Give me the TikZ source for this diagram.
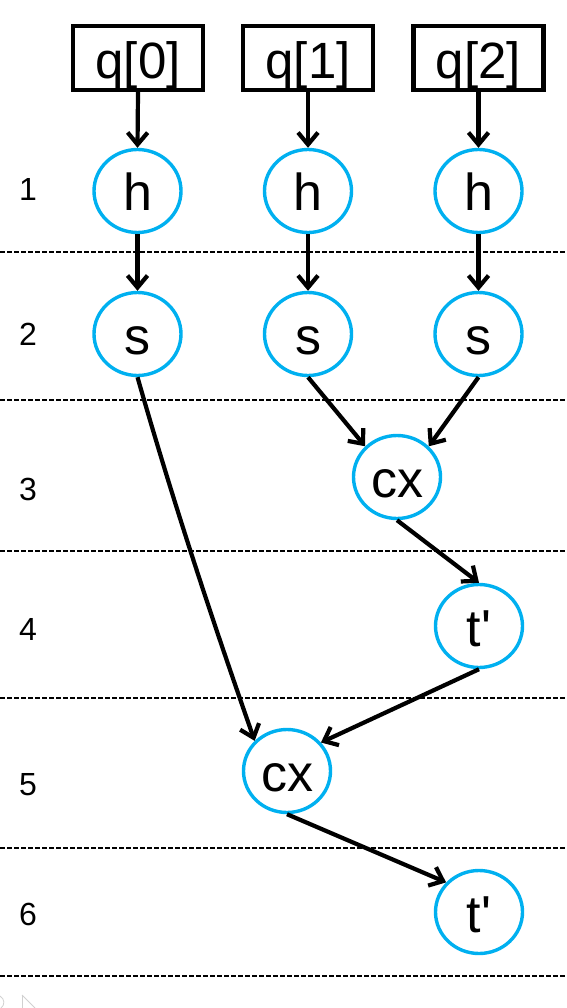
\documentclass[tikz,border=0pt]{standalone}
\usepackage{fontspec}
\setmainfont{Liberation Sans}[Ligatures=TeXOff]
\usetikzlibrary{arrows.meta,shapes.geometric}
\definecolor{gblue}{RGB}{0,176,240}
\begin{document}
\begin{tikzpicture}[x=1pt,y=-1pt,
  gate/.style={ellipse, draw=gblue, line width=3.4pt, minimum width=87pt, minimum height=83pt,
    inner sep=0pt, text height=40pt, text depth=0pt, font=\fontsize{52}{52}\selectfont},
  qbox/.style={rectangle, draw=black, line width=4.2pt, minimum width=130pt, minimum height=64pt,
    inner sep=0pt, text height=42pt, text depth=0pt, font=\fontsize{51}{51}\selectfont},
  arr/.style={line width=4.2pt, -{Straight Barb[length=12pt,width=20pt]}},
  sep/.style={line width=2pt, dash pattern=on 4.5pt off 2.5pt},
  rowlab/.style={anchor=base, font=\fontsize{32}{32}\selectfont}]
\useasboundingbox (0,0) rectangle (566,1008);

% row separators
\foreach \yy in {252,400,551,698,848,976}
  \draw[sep] (0,\yy) -- (566,\yy);

% row labels
\node[rowlab] (r1) at (28,201) {1};
\node[rowlab] (r2) at (28,345) {2};
\node[rowlab] (r3) at (28,500) {3};
\node[rowlab] (r4) at (28,640) {4};
\node[rowlab] (r5) at (28,795) {5};
\node[rowlab] (r6) at (28,925) {6};

% qubit boxes
\node[qbox] (q0) at (138,58) {q[0]};
\node[qbox] (q1) at (308,58) {q[1]};
\node[qbox] (q2) at (478.5,58) {q[2]};

% gates
\node[gate] (h0) at (137.5,191) {h};
\node[gate] (h1) at (308,191) {h};
\node[gate] (h2) at (478.5,191) {h};
\node[gate] (s0) at (137.5,334) {s};
\node[gate] (s1) at (308,334) {s};
\node[gate] (s2) at (478.5,334) {s};
\node[gate] (cx3) at (397,477) {cx};
\node[gate] (t4) at (479,626) {t'};
\node[gate] (cx5) at (287,771) {cx};
\node[gate] (t6) at (479,912) {t'};

% connectors
\draw[arr] (q0.south) -- (h0.north);
\draw[arr] (q1.south) -- (h1.north);
\draw[arr] (q2.south) -- (h2.north);
\draw[arr] (h0.south) -- (s0.north);
\draw[arr] (h1.south) -- (s1.north);
\draw[arr] (h2.south) -- (s2.north);
\draw[arr] (s1.south) -- (cx3.136);
\draw[arr] (s2.south) -- (cx3.44);
\draw[arr] (cx3.south) -- (t4.north);
\draw[arr] (t4.south) -- (cx5.40);
\draw[arr] (s0.south) .. controls +(40,140) and +(-35,-100) .. (cx5.137);
\draw[arr] (cx5.south) -- (t6.138);

% faint marks at bottom left
\draw[black!18, line width=0.8pt] (22,995) -- (22,1008);
\draw[black!18, line width=0.8pt] (22,995) -- (35,1008);
\draw[black!18, line width=0.8pt] (0,996) .. controls (5,999) and (5,1005) .. (1,1008);
\end{tikzpicture}
\end{document}
